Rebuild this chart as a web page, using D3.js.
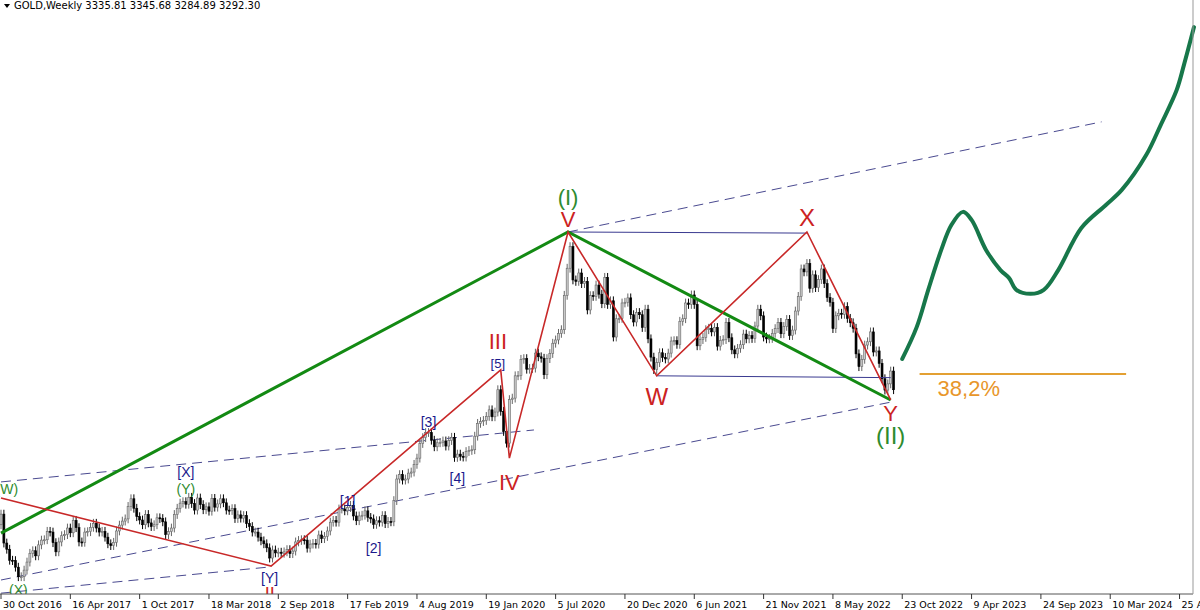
<!DOCTYPE html>
<html><head><meta charset="utf-8">
<script src="https://cdn.jsdelivr.net/npm/d3@7/dist/d3.min.js"></script>
<style>body{margin:0;background:#fff}svg{display:block;font-family:"Liberation Sans",Arial,sans-serif}</style>
</head><body><svg id="c" width="1200" height="610"></svg>
<script>
// Weekly closes starting week of 30 Oct 2016
const closes = [
1304,1225,1208,1178,1177,1159,1133,1133,1151,1173,1197,1204,1190,
1220,1233,1234,1257,1255,1226,1201,1228,1245,1248,1266,1253,1287,
1267,1228,1227,1255,1256,1268,1279,1266,1255,1257,1241,1223,1218,
1227,1258,1274,1285,1291,1325,1346,1320,1297,1288,1275,1303,1280,
1270,1275,1294,1292,1283,1248,1256,1266,1303,1320,1334,1338,1331,
1350,1333,1315,1348,1330,1316,1324,1312,1347,1323,1332,1346,1335,
1315,1314,1319,1292,1302,1293,1300,1278,1270,1255,1255,1241,1231,
1223,1212,1184,1206,1198,1200,1197,1201,1207,1196,1203,1228,1232,
1234,1233,1211,1222,1224,1222,1247,1237,1243,1258,1282,1287,1282,
1318,1318,1313,1322,1328,1299,1286,1299,1301,1313,1295,1291,1276,
1286,1282,1300,1278,1284,1283,1341,1400,1412,1397,1400,1416,1419,
1440,1457,1497,1513,1527,1527,1506,1488,1499,1500,1504,1490,1505,
1514,1459,1468,1462,1460,1475,1478,1480,1517,1552,1557,1560,1571,
1589,1570,1583,1644,1585,1530,1498,1617,1621,1682,1683,1727,1729,
1700,1702,1703,1744,1734,1730,1685,1729,1743,1771,1780,1798,1808,
1902,1976,2035,1944,1940,1963,1934,1940,1862,1901,1899,1930,1905,
1879,1951,1877,1887,1788,1838,1839,1881,1883,1895,1849,1829,1855,
1849,1814,1864,1783,1733,1699,1718,1745,1732,1728,1744,1777,1778,
1768,1831,1838,1881,1877,1903,1877,1764,1781,1787,1808,1812,1802,
1814,1763,1779,1781,1828,1786,1753,1742,1757,1767,1796,1783,1792,
1784,1818,1864,1846,1788,1783,1784,1798,1811,1828,1797,1817,1836,
1792,1807,1859,1899,1974,1966,1989,1921,1958,1923,1945,1974,1934,
1896,1883,1811,1846,1853,1850,1871,1839,1827,1812,1742,1707,1727,
1766,1775,1802,1747,1750,1716,1674,1643,1660,1695,1644
];
const firstOpen = 1275;
const tickLabels = ["30 Oct 2016","16 Apr 2017","1 Oct 2017","18 Mar 2018","2 Sep 2018","17 Feb 2019","4 Aug 2019","19 Jan 2020","5 Jul 2020","20 Dec 2020","6 Jun 2021","21 Nov 2021","8 May 2022","23 Oct 2022","9 Apr 2023","24 Sep 2023","10 Mar 2024","25 Aug 2024"];
// Wave annotation points [week, price]
const redPath = [[0,1348],[93.5,1162],[173,1698],[176,1457],[196.3,2075],[227,1682],[279,2075],[308,1616]];
const greenPath = [[0,1252],[196.3,2075],[308,1616]];
const navyLines = [[[196.3,2075],[279,2072]],[[227,1682],[308,1677]]];
const dashedLines = [[[0,1392],[184.5,1534]],[[0,1124],[308,1610]],[[0,1088],[93.5,1160]],[[196.3,2075],[381,2376]]];
const projWeeks = [312,317,321,325.5,329,333,336,341,346,349,351.5,356.5,361,366,374,382.5,388,396.5,401.5,407,409.5,413];
const projPrices = [1728,1815,1917,2026,2094,2130,2108,2026,1971,1949,1917,1906,1917,1971,2086,2149,2190,2286,2368,2463,2531,2635];
const fibLine = [[318,1687],[389.5,1687]];
const labels = [
 ["(W)",2,1368,"#2e8b2e",14],["(X)",6,1092,"#2e8b2e",14],["[X]",64,1415,"#1a1a8c",14],["(Y)",64,1370,"#2e8b2e",14],
 ["[Y]",93,1125,"#1a1a8c",14],["II",93,1083,"#cc2222",18],["[1]",120,1337,"#1a1a8c",14],["[2]",129,1208,"#1a1a8c",14],
 ["[3]",148,1552,"#1a1a8c",14],["[4]",158,1400,"#1a1a8c",14],["[5]",172,1712,"#1a1a8c",13],["III",172,1770,"#cc2222",22],
 ["IV",176,1385,"#cc2222",22],["(I)",196.3,2165,"#2e8b2e",22],["V",196.3,2105,"#cc2222",22],["W",227,1620,"#cc2222",24],
 ["X",279,2110,"#cc2222",24],["Y",308,1574,"#cc2222",22],["(II)",308,1512,"#2e8b2e",24]
];

const svg = d3.select("#c");
const x = d3.scaleLinear().domain([0,413]).range([1,1194]);
const y = d3.scaleLinear().domain([1124,2075]).range([580,232]);
const line = d3.line().x(d=>x(d[0])).y(d=>y(d[1]));

svg.append("path").attr("d","M4,4 L10,4 L7,8 Z").attr("fill","#000");
svg.append("text").attr("x",14).attr("y",9).attr("font-size",10).attr("font-family","Verdana,DejaVu Sans,sans-serif").text("GOLD,Weekly  3335.81 3345.68 3284.89 3292.30");

dashedLines.forEach(l=>svg.append("path").attr("d",line(l)).attr("stroke","#4a4a90").attr("stroke-width",1).attr("stroke-dasharray","10,6").attr("fill","none"));

const candles = closes.map((c,i)=>{const o=i?closes[i-1]:firstOpen;return {i,o,c,h:Math.max(o,c)+12,l:Math.min(o,c)-12};});
const g = svg.append("g");
g.selectAll("line.w").data(candles).join("line").attr("x1",d=>x(d.i)).attr("x2",d=>x(d.i)).attr("y1",d=>y(d.h)).attr("y2",d=>y(d.l)).attr("stroke",d=>d.c>=d.o?"#666":"#000");
g.selectAll("rect").data(candles).join("rect").attr("x",d=>x(d.i)-1).attr("width",2)
 .attr("y",d=>y(Math.max(d.o,d.c))).attr("height",d=>Math.max(1,Math.abs(y(d.o)-y(d.c))))
 .attr("fill",d=>d.c>=d.o?"#ccc":"#000").attr("stroke",d=>d.c>=d.o?"#666":"#000").attr("stroke-width",0.6);

navyLines.forEach(l=>svg.append("path").attr("d",line(l)).attr("stroke","#3a3a90").attr("stroke-width",1).attr("fill","none"));
svg.append("path").attr("d",line(greenPath)).attr("stroke","#138a13").attr("stroke-width",3).attr("fill","none");
svg.append("path").attr("d",line(redPath)).attr("stroke","#c82828").attr("stroke-width",1.6).attr("fill","none");
const proj = projWeeks.map((w,i)=>[w,projPrices[i]]);
svg.append("path").attr("d",d3.line().x(d=>x(d[0])).y(d=>y(d[1])).curve(d3.curveCatmullRom)(proj)).attr("stroke","#17774a").attr("stroke-width",4).attr("fill","none").attr("stroke-linecap","round");
svg.append("path").attr("d",line(fibLine)).attr("stroke","#e3a032").attr("stroke-width",2);
svg.append("text").attr("x",x(fibLine[0][0])+18).attr("y",y(fibLine[0][1])+22).attr("font-size",22).attr("fill","#e8962a").text("38,2%");

labels.forEach(([t,w,p,c,s])=>svg.append("text").attr("x",x(w)).attr("y",y(p)).attr("text-anchor","middle").attr("dominant-baseline","middle").attr("font-size",s).attr("fill",c).text(t));

svg.append("rect").attr("x",0).attr("y",594).attr("width",1200).attr("height",16).attr("fill","#fff");
svg.append("line").attr("x1",0).attr("x2",1193).attr("y1",594).attr("y2",594).attr("stroke","#555");
svg.append("line").attr("x1",1193).attr("x2",1193).attr("y1",0).attr("y2",594).attr("stroke","#999");
const ticks = tickLabels.map((t,i)=>({t,w:i*24}));
const ax = svg.append("g");
ax.selectAll("line").data(ticks).join("line").attr("x1",d=>x(d.w)).attr("x2",d=>x(d.w)).attr("y1",594).attr("y2",599).attr("stroke","#333");
ax.selectAll("text").data(ticks).join("text").attr("x",d=>x(d.w)+2).attr("y",608).attr("font-size",9.5).attr("font-family","Verdana,DejaVu Sans,sans-serif").text(d=>d.t);
</script></body></html>
